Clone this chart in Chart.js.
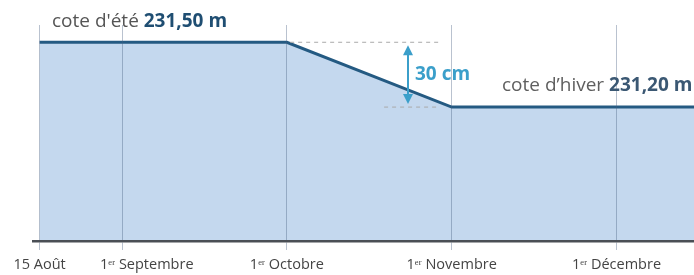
<!DOCTYPE html>
<html>
<head>
<meta charset="utf-8">
<script src="https://cdn.jsdelivr.net/npm/chart.js@4/dist/chart.umd.min.js"></script>
<style>
  html, body { margin: 0; padding: 0; background: #fff; }
  #wrap { width: 694px; height: 275px; }
</style>
</head>
<body>
<div id="wrap"><canvas id="graphe"></canvas></div>
<script>
// dates (en mois depuis le 15 août) et libellés
const dates = [0, 0.5, 1.5, 2.5, 3.5];
const libelles = ["15 Août", "1ᵉʳ Septembre", "1ᵉʳ Octobre", "1ᵉʳ Novembre", "1ᵉʳ Décembre"];
const decalLibelle = [0, 0.15, 0, 0, 0];

// niveau du lac (m)
const niveauX = [0, 1.5, 2.5, 3.97];
const niveauY = [231.50, 231.50, 231.20, 231.20];

const coteEte = 231.50;
const coteHiver = 231.20;

/* ============================
      ANNOTATIONS
============================ */
const annotations = {
    id: "annotations",
    afterDraw(chart) {
        const ctx = chart.ctx;
        const x = chart.scales.x;
        const y = chart.scales.y;
        ctx.save();

        // pointillés
        ctx.strokeStyle = "#a9a9a9";
        ctx.lineWidth = 1;
        ctx.setLineDash([4, 4]);
        ctx.beginPath();
        ctx.moveTo(x.getPixelForValue(1.52), y.getPixelForValue(coteEte));
        ctx.lineTo(x.getPixelForValue(2.42), y.getPixelForValue(coteEte));
        ctx.moveTo(x.getPixelForValue(2.09), y.getPixelForValue(coteHiver));
        ctx.lineTo(x.getPixelForValue(2.42), y.getPixelForValue(coteHiver));
        ctx.stroke();
        ctx.setLineDash([]);

        // flèche 30 cm
        const ax = x.getPixelForValue(2.235);
        const y1 = y.getPixelForValue(coteEte) + 3;
        const y2 = y.getPixelForValue(coteHiver) - 3;
        ctx.strokeStyle = "#3b9fca";
        ctx.fillStyle = "#3b9fca";
        ctx.lineWidth = 2;
        ctx.beginPath();
        ctx.moveTo(ax, y1 + 8);
        ctx.lineTo(ax, y2 - 8);
        ctx.stroke();
        ctx.beginPath();
        ctx.moveTo(ax, y1); ctx.lineTo(ax - 5, y1 + 10); ctx.lineTo(ax + 5, y1 + 10);
        ctx.closePath(); ctx.fill();
        ctx.beginPath();
        ctx.moveTo(ax, y2); ctx.lineTo(ax - 5, y2 - 10); ctx.lineTo(ax + 5, y2 - 10);
        ctx.closePath(); ctx.fill();

        ctx.textBaseline = "middle";
        ctx.textAlign = "left";
        ctx.font = "bold 19px 'Open Sans'";
        ctx.fillText("30 cm", ax + 7, (y1 + y2) / 2);

        // cote d'été
        ctx.font = "19px 'Open Sans'";
        ctx.fillStyle = "#555555";
        let tx = 52, ty = 22;
        ctx.fillText("cote d'été ", tx, ty);
        tx += ctx.measureText("cote d'été ").width;
        ctx.font = "bold 19px 'Open Sans'";
        ctx.fillStyle = "#1f4e72";
        ctx.fillText("231,50 m", tx, ty);

        // cote d'hiver
        ctx.font = "19px 'Open Sans'";
        ctx.fillStyle = "#5f5f5f";
        tx = 502; ty = 86;
        ctx.fillText("cote d’hiver ", tx, ty);
        tx += ctx.measureText("cote d’hiver ").width;
        ctx.font = "bold 19px 'Open Sans'";
        ctx.fillStyle = "#3b5873";
        ctx.fillText("231,20 m", tx, ty);

        // libellés des dates
        ctx.font = "14.5px 'Open Sans'";
        ctx.fillStyle = "#444444";
        ctx.textAlign = "center";
        dates.forEach((d, i) => {
            ctx.fillText(libelles[i], x.getPixelForValue(d + decalLibelle[i]), 265);
        });
        ctx.restore();
    }
};

/* ============================
      GRAPHIQUE
============================ */
new Chart(document.getElementById("graphe"), {
    type: "line",
    data: {
        datasets: [{
            data: niveauX.map((v, i) => ({ x: v, y: niveauY[i] })),
            borderColor: "#245a82",
            borderWidth: 3,
            backgroundColor: "#c4d8ee",
            fill: "start",
            pointRadius: 0,
            tension: 0
        }]
    },
    options: {
        responsive: true,
        maintainAspectRatio: false,
        animation: false,
        layout: { padding: { left: 33, right: 0, top: 25, bottom: 25 } },
        plugins: { legend: { display: false }, tooltip: { enabled: false } },
        scales: {
            x: {
                type: "linear",
                min: -0.04,
                max: 3.97,
                afterBuildTicks: (axis) => { axis.ticks = dates.map(v => ({ value: v })); },
                grid: {
                    z: 1,
                    color: "rgba(70, 95, 130, 0.38)",
                    lineWidth: 1,
                    drawTicks: true,
                    tickLength: 9
                },
                border: { z: 1, color: "#4a4f55", width: 2.5 },
                ticks: { display: false }
            },
            y: {
                display: false,
                min: 230.58,
                max: 231.58
            }
        }
    },
    plugins: [annotations]
});
</script>
</body>
</html>
